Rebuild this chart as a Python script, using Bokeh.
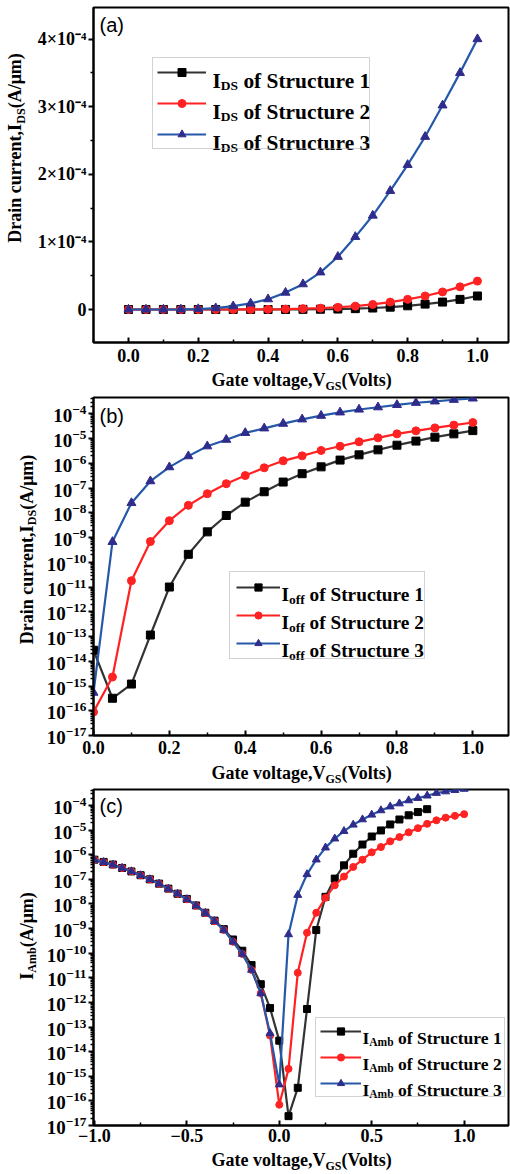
import math
from bokeh.plotting import figure
from bokeh.layouts import column, row
from bokeh.models import (FixedTicker, CustomJSTickFormatter, Legend, LegendItem,
                          Label, Range1d)
from bokeh.embed import file_html
from bokeh.resources import INLINE

SERIF = "Liberation Serif"
SANS = "Liberation Sans"

# ---------------- data ----------------
vgs = [0.0, 0.05, 0.1, 0.15, 0.2, 0.25, 0.3, 0.35, 0.4, 0.45, 0.5,
       0.55, 0.6, 0.65, 0.7, 0.75, 0.8, 0.85, 0.9, 0.95, 1.0]

# (a) linear I_DS (A/um)
ids_s1 = [0.0, 0.0, 0.0, 0.0, 0.0, 0.0, 0.0, 0.0, 0.0, 0.1e-6, 0.2e-6,
          0.4e-6, 0.7e-6, 1.3e-6, 2.2e-6, 3.5e-6, 5.5e-6, 8.0e-6, 1.1e-5, 1.5e-5, 2.0e-5]
ids_s2 = [0.0, 0.0, 0.0, 0.0, 0.0, 0.0, 0.06e-6, 0.15e-6, 0.3e-6, 0.66e-6, 1.25e-6,
          2.0e-6, 3.3e-6, 5.0e-6, 7.5e-6, 1.1e-5, 1.5e-5, 2.0e-5, 2.6e-5, 3.35e-5, 4.2e-5]
ids_s3 = [0.0, 0.0, 0.0, 0.2e-6, 0.7e-6, 2.0e-6, 4.9e-6, 9.0e-6, 1.53e-5, 2.5e-5, 3.75e-5,
          5.5e-5, 7.8e-5, 1.075e-4, 1.39e-4, 1.755e-4, 2.14e-4, 2.555e-4, 3.02e-4, 3.5e-4, 4.0e-4]

# (b) log I_off (A/um)
ioff_s1 = [2.8e-14, 3.2e-16, 1.2e-15, 1.15e-13, 1.0e-11, 2.1e-10, 1.7e-9, 7.8e-9, 2.7e-8,
           7.1e-8, 1.75e-7, 3.8e-7, 7.2e-7, 1.35e-6, 2.2e-6, 3.5e-6, 5.4e-6, 7.9e-6,
           1.14e-5, 1.55e-5, 2.1e-5]
ioff_s2 = [8.9e-17, 2.3e-15, 1.8e-11, 6.9e-10, 4.8e-9, 2.0e-8, 5.9e-8, 1.5e-7, 3.2e-7,
           6.6e-7, 1.26e-6, 2.0e-6, 3.3e-6, 4.9e-6, 7.4e-6, 1.07e-5, 1.55e-5, 2.05e-5,
           2.7e-5, 3.5e-5, 4.45e-5]
ioff_s3 = [5.4e-16, 6.7e-10, 2.5e-8, 1.9e-7, 7.0e-7, 1.95e-6, 4.9e-6, 9.0e-6, 1.7e-5,
           2.6e-5, 4.0e-5, 6.0e-5, 8.4e-5, 1.15e-4, 1.5e-4, 1.85e-4, 2.3e-4, 2.8e-4,
           3.2e-4, 3.7e-4, 4.2e-4]

# (c) ambipolar current (A/um)
vgs_c = [-1.0, -0.95, -0.9, -0.85, -0.8, -0.75, -0.7, -0.65, -0.6, -0.55, -0.5, -0.45,
         -0.4, -0.35, -0.3, -0.25, -0.2, -0.15, -0.1, -0.05, 0.0, 0.05, 0.1, 0.15, 0.2,
         0.25, 0.3, 0.35, 0.4, 0.45, 0.5, 0.55, 0.6, 0.65, 0.7, 0.75, 0.8, 0.85, 0.9,
         0.95, 1.0]
iamb_s1 = [6.3e-7, 5.1e-7, 4.0e-7, 2.9e-7, 2.1e-7, 1.47e-7, 1.0e-7, 6.7e-8, 4.2e-8, 2.6e-8,
           1.6e-8, 8.7e-9, 4.4e-9, 2.1e-9, 9.5e-10, 3.6e-10, 1.26e-10, 3.3e-11, 5.5e-12,
           5.9e-13, 2.8e-14, 2.4e-17, 3.4e-16, 5.4e-13, 8.7e-10, 1.95e-8, 1.07e-7, 3.7e-7,
           1.1e-6, 2.6e-6, 5.5e-6, 9.7e-6, 1.7e-5, 2.7e-5, 4.0e-5, 5.4e-5, 7.1e-5]
iamb_s2 = [6.2e-7, 5.0e-7, 3.9e-7, 2.9e-7, 2.1e-7, 1.45e-7, 1.0e-7, 6.6e-8, 4.1e-8, 2.6e-8,
           1.55e-8, 8.5e-9, 4.3e-9, 2.0e-9, 8.8e-10, 2.9e-10, 9.3e-11, 2.1e-11, 2.35e-12,
           4.5e-14, 7.0e-17, 2.0e-15, 1.6e-11, 6.8e-10, 4.4e-9, 1.78e-8, 5.7e-8, 1.3e-7,
           3.2e-7, 6.3e-7, 1.25e-6, 2.05e-6, 3.5e-6, 5.2e-6, 8.1e-6, 1.2e-5, 1.8e-5, 2.5e-5,
           3.2e-5, 3.8e-5, 4.45e-5]
iamb_s3 = [6.2e-7, 5.0e-7, 3.9e-7, 2.9e-7, 2.1e-7, 1.45e-7, 1.0e-7, 6.6e-8, 4.1e-8, 2.6e-8,
           1.55e-8, 8.5e-9, 4.3e-9, 2.0e-9, 8.8e-10, 2.9e-10, 9.3e-11, 2.1e-11, 2.35e-12,
           5.6e-14, 4.6e-16, 5.8e-10, 2.3e-8, 1.6e-7, 6.3e-7, 1.94e-6, 4.5e-6, 9.1e-6,
           1.65e-5, 2.7e-5, 4.2e-5, 6.3e-5, 9.0e-5, 1.2e-4, 1.6e-4, 2.0e-4, 2.5e-4, 3.2e-4,
           3.7e-4, 4.2e-4, 4.7e-4]

structures = ["Structure 1", "Structure 2", "Structure 3"]

# ---------------- styles ----------------
LINE_COLORS = ["#333333", "#ff2222", "#2558a8"]
MARK_COLORS = ["#000000", "#ff2222", "#2f2c8c"]
MARKERS = ["square", "circle", "triangle"]

# Times-Bold advance widths (per 1000 em)
TW = {' ': 250, ',': 250, '(': 333, ')': 333, '/': 278, 'A': 722, 'D': 722, 'G': 778,
      'I': 389, 'S': 556, 'V': 722, 'a': 500, 'b': 556, 'c': 444, 'e': 444, 'f': 333,
      'g': 500, 'i': 278, 'l': 278, 'm': 833, 'n': 556, 'o': 500, 'r': 444, 's': 389,
      't': 333, 'u': 556, 'v': 500, 'μ': 556, '1': 500, '2': 500, '3': 500}
MID = 0.3375  # alphabetic baseline -> central baseline, in em


def tw(text, size):
    return sum(TW.get(c, 500) for c in text) * size / 1000.0


def rich(p, pieces, x, y, angle=0.0, middle=False):
    """pieces: (text, size, shift_down). x,y: frame screen coords of baseline start."""
    pos = x if angle == 0 else y
    for text, size, shift in pieces:
        stripped = text.lstrip(" ")
        pos += tw(text[:len(text) - len(stripped)], size)
        up = MID * size if middle else 0.0
        if angle == 0:
            lx, ly = pos, y - shift + up
        else:
            lx, ly = x + shift - up, pos
        p.add_layout(Label(x=lx, y=ly, x_units="screen", y_units="screen", text=stripped,
                           text_font=SERIF, text_font_style="bold",
                           text_font_size=f"{size}px", text_color="black",
                           text_align="left",
                           text_baseline="middle" if middle else "alphabetic",
                           angle=angle, level="overlay"))
        pos += tw(stripped, size)


def total_w(pieces):
    return sum(tw(t, s) for t, s, _ in pieces)


def blank(w, h):
    f = figure(width=w, height=h, x_range=Range1d(0, 1), y_range=Range1d(0, 1),
               x_axis_type=None, y_axis_type=None, output_backend="svg",
               toolbar_location=None, min_border_left=0, min_border_right=0,
               min_border_top=0, min_border_bottom=0)
    f.outline_line_color = None
    f.background_fill_color = "white"
    f.border_fill_color = "white"
    return f


def style(p, log=False, xstandoff=6):
    p.grid.visible = False
    p.outline_line_color = "black"
    p.outline_line_width = 2
    p.background_fill_color = "white"
    p.border_fill_color = "white"
    for ax in list(p.xaxis) + list(p.yaxis):
        ax.axis_line_width = 2
        ax.axis_line_color = "black"
        ax.major_tick_line_width = 2
        ax.minor_tick_line_width = 1.5
        ax.major_tick_line_color = "black"
        ax.minor_tick_line_color = "black"
        ax.major_label_text_font = SERIF
        ax.major_label_text_font_style = "bold"
        ax.major_label_text_color = "black"
    for ax in p.xaxis:
        ax.major_label_text_font_size = "18px"
        ax.major_tick_in = 5
        ax.major_tick_out = 0
        ax.minor_tick_in = 3
        ax.minor_tick_out = 0
        ax.major_label_standoff = xstandoff
    for ax in p.yaxis:
        ax.major_label_text_font_size = "19px" if log else "18px"
        ax.major_tick_in = 0
        ax.major_tick_out = 5
        ax.minor_tick_in = 0
        ax.minor_tick_out = 3
        ax.major_label_standoff = 2


def plot_series(p, x, ys, size):
    out = []
    for i, y in enumerate(ys):
        n = len(y)
        ln = p.line(x[:n], y, line_color=LINE_COLORS[i], line_width=2.2)
        sc = p.scatter(x[:n], y, marker=MARKERS[i], size=size + (1 if i == 2 else 0),
                       fill_color=MARK_COLORS[i], line_color=MARK_COLORS[i])
        out.append((ln, sc))
    return out


def add_legend(p, pairs, loc, gw, gh, spacing, padding, standoff, lw):
    items = [LegendItem(label=" ", renderers=[ln, sc]) for ln, sc in pairs]
    leg = Legend(items=items, location=loc, orientation="vertical",
                 glyph_width=gw, glyph_height=gh, label_height=gh,
                 spacing=spacing, padding=padding, label_standoff=standoff,
                 label_width=lw, margin=0,
                 label_text_font_size="8px",
                 border_line_color="#a8a8a8", border_line_width=1,
                 background_fill_color="white", background_fill_alpha=0.0)
    p.add_layout(leg)


def xtitle(h, base_y):
    f = blank(510, h)
    pcs = [("Gate voltage,V", 18, 0), ("GS", 12, 4), ("(Volts)", 18, 0)]
    rich(f, pcs, 302 - total_w(pcs) / 2, base_y, middle=True)
    return f


def ytitle(w, h, pcs, base_x, center_y):
    f = blank(w, h)
    rich(f, pcs, base_x, center_y - total_w(pcs) / 2, angle=math.pi / 2, middle=True)
    return f


FRAME_LEFT = 93  # page x of left axis
ypcs = [("Drain current,I", 18, 0), ("DS", 12, 3.5), ("(A/μm)", 18, 0)]

# ---------------- panel (a) ----------------  row 0..368, frame 7..342
HA = 368
pa = figure(width=480, height=HA, x_range=Range1d(-0.1003, 1.089),
            y_range=Range1d(-0.488e-4, 4.467e-4), output_backend="svg",
            toolbar_location=None, min_border_left=63, min_border_right=2,
            min_border_top=7, min_border_bottom=26)
style(pa, xstandoff=6)
pa.xaxis.ticker = FixedTicker(ticks=[0.0, 0.2, 0.4, 0.6, 0.8, 1.0],
                              minor_ticks=[-0.1, 0.1, 0.3, 0.5, 0.7, 0.9])
pa.yaxis.ticker = FixedTicker(ticks=[0.0, 1e-4, 2e-4, 3e-4, 4e-4],
                              minor_ticks=[-0.5e-4, 0.5e-4, 1.5e-4, 2.5e-4, 3.5e-4])
pa.yaxis.formatter = CustomJSTickFormatter(code="""
    if (Math.abs(tick) < 1e-12) { return "0"; }
    const n = Math.round(tick * 1e4);
    return n + "\u00d710\u207b\u2074";
""")
pa.xaxis.formatter = CustomJSTickFormatter(code="return tick.toFixed(1);")
pairs_a = plot_series(pa, vgs, [ids_s1, ids_s2, ids_s3], 8)
FB_A = 342
add_legend(pa, pairs_a, (152 - FRAME_LEFT, FB_A - 149), 49, 20, 11, 4, 10, 149)
for i, s in enumerate(structures):
    base = 73 + 31 * i + 7
    rich(pa, [("I", 21.4, 0), ("DS", 13.5, 5), (" of " + s, 21.4, 0)], 212 - FRAME_LEFT, FB_A - base)
pa.add_layout(Label(x=6, y=FB_A - 24.5, x_units="screen", y_units="screen", text="(a)",
                    text_font=SANS, text_font_size="20px", text_color="black",
                    text_baseline="middle", level="overlay"))
ya = ytitle(30, HA, ypcs, 21, HA - 173.5)
xa = xtitle(26, 394 - 385.5)          # 368..394

# ---------------- panel (b) ----------------  row 394..761, frame 397..735
log_major = [10.0 ** k for k in range(-17, -3)]
log_minor = [m * 10.0 ** k for k in range(-18, -3) for m in range(2, 10)]

HB = 367
pb = figure(width=470, height=HB, x_range=Range1d(0.0, 1.094),
            y_range=Range1d(1e-17, 10 ** -3.34), y_axis_type="log", output_backend="svg",
            toolbar_location=None, min_border_left=53, min_border_right=2,
            min_border_top=3, min_border_bottom=26)
style(pb, log=True, xstandoff=5)
pb.xaxis.ticker = FixedTicker(ticks=[0.0, 0.2, 0.4, 0.6, 0.8, 1.0],
                              minor_ticks=[0.1, 0.3, 0.5, 0.7, 0.9])
pb.xaxis.formatter = CustomJSTickFormatter(code="return tick.toFixed(1);")
pb.yaxis.ticker = FixedTicker(ticks=log_major, minor_ticks=log_minor)
pairs_b = plot_series(pb, vgs, [ioff_s1, ioff_s2, ioff_s3], 8)
FB_B = 735
add_legend(pb, pairs_b, (229 - FRAME_LEFT, FB_B - 659), 44, 18, 10, 6, 5, 133)
for i, s in enumerate(structures):
    base = 588 + 28 * i + 6.4
    rich(pb, [("I", 19.3, 0), ("off", 13.5, 4.5), (" of " + s, 19.3, 0)], 281 - FRAME_LEFT, FB_B - base)
pb.add_layout(Label(x=6, y=FB_B - 415, x_units="screen", y_units="screen", text="(b)",
                    text_font=SANS, text_font_size="20px", text_color="black",
                    text_baseline="middle", level="overlay"))
yb = ytitle(40, HB, ypcs, 32.5, 761 - 575)
xb = xtitle(26, 787 - 778.5)          # 761..787

# ---------------- panel (c) ----------------  row 787..1148, frame 789..1125
HC = 361
pc = figure(width=470, height=HC, x_range=Range1d(-1.005, 1.24),
            y_range=Range1d(1e-17, 10 ** -3.35), y_axis_type="log", output_backend="svg",
            toolbar_location=None, min_border_left=53, min_border_right=2,
            min_border_top=2, min_border_bottom=23)
style(pc, log=True, xstandoff=3)
pc.xaxis.ticker = FixedTicker(ticks=[-1.0, -0.5, 0.0, 0.5, 1.0],
                              minor_ticks=[-0.75, -0.25, 0.25, 0.75])
pc.xaxis.formatter = CustomJSTickFormatter(code="""
    return tick < 0 ? "\u2212" + Math.abs(tick).toFixed(1) : tick.toFixed(1);
""")
pc.yaxis.ticker = FixedTicker(ticks=log_major, minor_ticks=log_minor)
pairs_c = plot_series(pc, vgs_c, [iamb_s1, iamb_s2, iamb_s3], 7)
FB_C = 1125
add_legend(pc, pairs_c, (315 - FRAME_LEFT, FB_C - 1097), 41, 18, 8, 4, 4, 135)
for i, s in enumerate(structures):
    base = 1032 + 26 * i + 5.8
    rich(pc, [("I", 17.5, 0), ("Amb", 11.5, 4), (" of " + s, 17.5, 0)], 362 - FRAME_LEFT, FB_C - base)
pc.add_layout(Label(x=6, y=FB_C - 805.5, x_units="screen", y_units="screen", text="(c)",
                    text_font=SANS, text_font_size="20px", text_color="black",
                    text_baseline="middle", level="overlay"))
ypc = [("I", 18, 0), ("Amb", 12, 3.5), ("(A/μm)", 18, 0)]
yc = ytitle(40, HC, ypc, 32.5, 1148 - 958.5)
xc = xtitle(26, 1174 - 1165.5)        # 1148..1174

layout = column(row(ya, pa), xa, row(yb, pb), xb, row(yc, pc), xc)
open("out.html", "w").write(file_html(layout, INLINE))
